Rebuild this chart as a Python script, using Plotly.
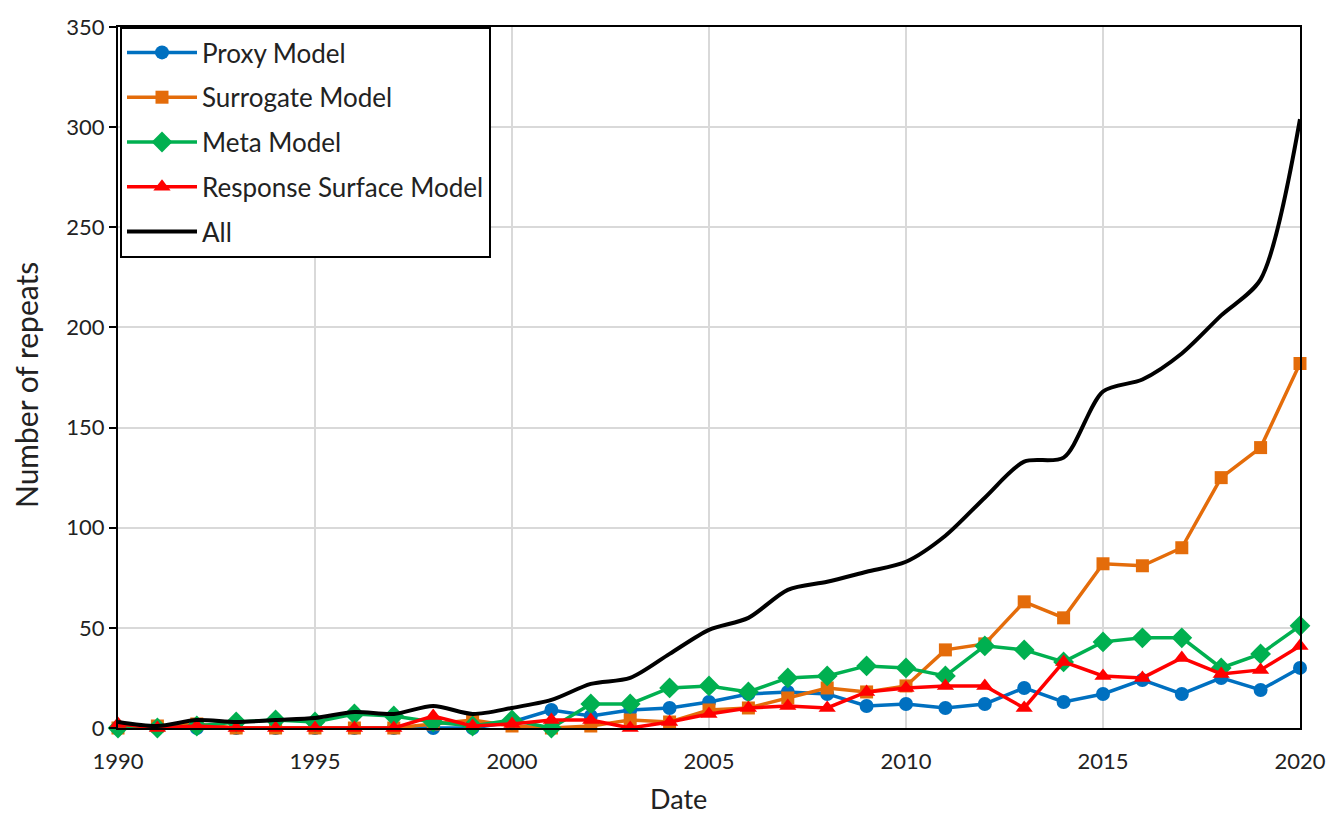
import plotly.graph_objects as go

years = list(range(1990, 2021))
proxy = [0,0,0,0,0,0,0,0,0,0,3,9,6,9,10,13,17,18,17,11,12,10,12,20,13,17,24,17,25,19,30]
surrogate = [0,1,2,0,0,0,0,0,2,4,1,0,1,4,3,9,10,15,20,18,21,39,42,63,55,82,81,90,125,140,182]
meta = [0,0,1,3,4,3,7,6,3,1,4,0,12,12,20,21,18,25,26,31,30,26,41,39,33,43,45,45,30,37,51]
rsm = [2,0,1,0,0,0,0,0,6,1,2,4,4,0,3,7,10,11,10,18,20,21,21,10,33,26,25,35,27,29,41]
all_ = [3,1,4,3,4,5,8,7,11,7,10,14,22,25,37,49,55,69,73,78,83,96,115,133,135,168,174,187,206,224,304]

x_ticks = [1990, 1995, 2000, 2005, 2010, 2015, 2020]
y_ticks = [0, 50, 100, 150, 200, 250, 300, 350]

FONT = "Lato"
TXT = "#222222"

series = [
    ("Proxy Model", proxy, "#0070C0", "circle", 14),
    ("Surrogate Model", surrogate, "#E46C0A", "square", 13),
    ("Meta Model", meta, "#00B050", "diamond", 16),
    ("Response Surface Model", rsm, "#FF0000", "triangle-up", 15),
]

fig = go.Figure()
for i, (name, vals, col, sym, sz) in enumerate(series):
    fig.add_trace(go.Scatter(
        x=years, y=vals, name=name, mode="lines+markers",
        line=dict(color=col, width=3.5),
        marker=dict(symbol=sym, size=sz, color=col),
        cliponaxis=False, legendgroup=f"g{i}",
    ))
fig.add_trace(go.Scatter(
    x=years, y=all_, name="All", mode="lines",
    line=dict(color="black", width=4, shape="spline", smoothing=0.8),
    cliponaxis=False, legendgroup="g5",
))

W, H = 1328, 814
L, T = 118, 27
R = W - 1300
B = H - 728
pw, ph = W - L - R, H - T - B

def sx(px):
    return (px - L) / pw

def sy(py):
    return (H - B - py) / ph

fig.update_layout(
    width=W, height=H,
    margin=dict(l=L, r=R, t=T, b=B, autoexpand=False),
    paper_bgcolor="white", plot_bgcolor="white",
    font=dict(family=FONT, size=22, color=TXT),
    showlegend=True,
    legend=dict(
        x=2 / pw, y=1.0, xanchor="left", yanchor="top",
        bgcolor="white", bordercolor="black", borderwidth=2,
        font=dict(family=FONT, size=26, color=TXT),
        traceorder="grouped", tracegroupgap=8,
        itemwidth=70,
    ),
    xaxis=dict(
        range=[1990, 2020], tickvals=x_ticks, ticktext=[str(v) for v in x_ticks],
        showgrid=True, gridcolor="#D9D9D9", gridwidth=2,
        showline=True, linecolor="black", linewidth=2, mirror=True,
        ticks="", zeroline=False, automargin=False,
        ticklabelstandoff=13,
        tickfont=dict(family=FONT, size=22, color=TXT),
    ),
    yaxis=dict(
        range=[0, 350], tickvals=y_ticks, ticktext=[str(v) for v in y_ticks],
        showgrid=True, gridcolor="#D9D9D9", gridwidth=2,
        showline=True, linecolor="black", linewidth=2, mirror=True,
        ticks="outside", ticklen=7, tickwidth=2, tickcolor="black",
        zeroline=False, automargin=False,
        tickfont=dict(family=FONT, size=22, color=TXT),
    ),
    annotations=[
        dict(text="Date", xref="paper", yref="paper",
             x=sx(678), y=sy(798), xanchor="center", yanchor="middle",
             showarrow=False, font=dict(family=FONT, size=27, color=TXT)),
        dict(text="Number of repeats", xref="paper", yref="paper", textangle=-90,
             x=sx(26), y=sy(385), xanchor="center", yanchor="middle",
             showarrow=False, font=dict(family=FONT, size=30, color=TXT)),
    ],
)

fig.write_html(
    "out.html",
    config={"displayModeBar": False},
    post_script="document.body.style.margin='0';document.body.style.overflow='hidden';",
)
